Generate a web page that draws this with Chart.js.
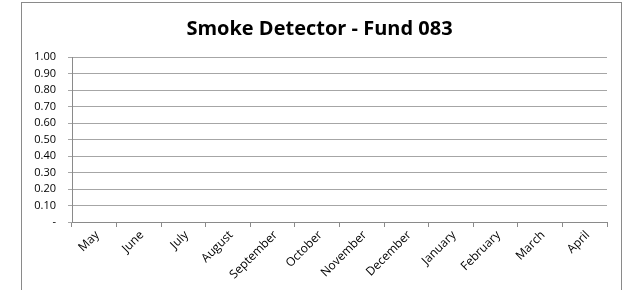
<!DOCTYPE html>
<html>
<head>
<meta charset="utf-8">
<script src="https://cdn.jsdelivr.net/npm/chart.js@4/dist/chart.umd.min.js"></script>
<style>
  html, body { margin: 0; padding: 0; background: #fff; overflow: hidden; }
  #moldura {
    position: absolute; left: 21px; top: 2px;
    width: 599px; height: 300px;
    border: 1px solid #8a8a8a;
  }
  #grafico { display: block; }
</style>
</head>
<body>
<div id="moldura">
  <canvas id="grafico" width="599" height="287"></canvas>
</div>
<script>
const titulo = 'Smoke Detector - Fund 083'
const meses = ['May', 'June', 'July', 'August', 'September', 'October',
  'November', 'December', 'January', 'February', 'March', 'April']
// nothing was spent in any month, so every bar sits at zero
const valores = [0, 0, 0, 0, 0, 0, 0, 0, 0, 0, 0, 0]
const eixoMin = 0
const eixoMax = 1
const eixoPasso = 0.1

const familia = '"Open Sans", sans-serif'

const ctx = document.getElementById('grafico').getContext('2d')

new Chart(ctx, {
  type: 'bar',
  data: {
    labels: meses,
    datasets: [
      {
        data: valores,
        backgroundColor: '#4f81bd',
        borderWidth: 0
      }
    ]
  },
  options: {
    responsive: false,
    animation: false,
    // left/right padding also keeps the title centred like the original
    layout: { padding: { left: 10, right: 14, top: 0, bottom: 0 } },
    scales: {
      x: {
        grid: {
          display: true,
          drawOnChartArea: false,
          offset: true,
          tickLength: 5,
          color: '#8a8a8a'
        },
        border: { display: true, color: '#8a8a8a' },
        ticks: {
          color: '#000',
          font: { family: familia, size: 12 },
          minRotation: 45,
          maxRotation: 45,
          padding: 1,
          labelOffset: 3,
          autoSkip: false
        },
        afterFit: s => { s.height = 68 }
      },
      y: {
        min: eixoMin,
        max: eixoMax,
        grid: { color: '#a6a6a6', tickLength: 4 },
        border: { display: true, color: '#8a8a8a' },
        ticks: {
          stepSize: eixoPasso,
          color: '#000',
          font: { family: familia, size: 11 },
          padding: 12,
          callback: v => (Math.abs(v) < 1e-9 ? '-' : v.toFixed(2))
        },
        afterFit: s => { s.width = 40 }
      }
    },
    plugins: {
      legend: { display: false },
      tooltip: { enabled: false },
      title: {
        display: true,
        text: titulo,
        color: '#000',
        font: { family: familia, size: 20, weight: 'bold', lineHeight: 1.2 },
        padding: { top: 14, bottom: 16 }
      }
    }
  }
})
</script>
</body>
</html>
